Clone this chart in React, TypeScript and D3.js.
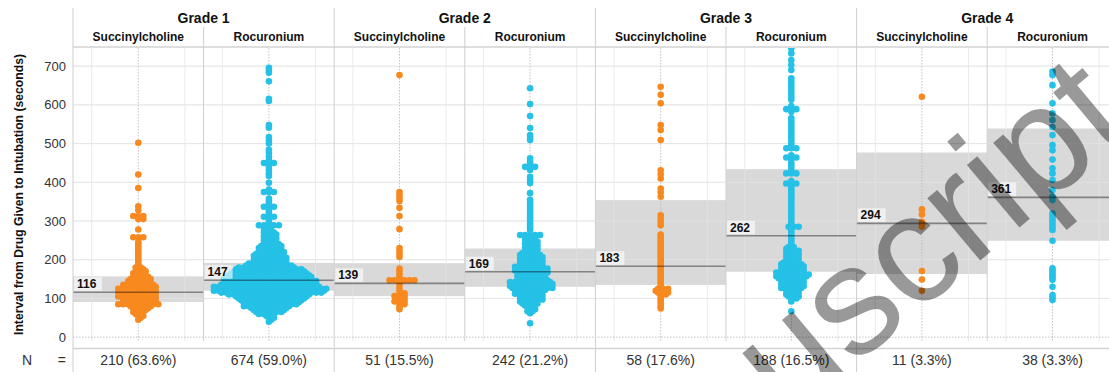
import React, { useMemo } from "react";
import * as d3 from "d3";

const grades = ["Grade 1", "Grade 2", "Grade 3", "Grade 4"];
const drugs = ["Succinylcholine", "Rocuronium"];
const nLabels = ["210 (63.6%)", "674 (59.0%)", "51 (15.5%)", "242 (21.2%)", "58 (17.6%)", "188 (16.5%)", "11 (3.3%)", "38 (3.3%)"];
const medians = [116, 147, 139, 169, 183, 262, 294, 361];
const lowerQ = [91, 120, 106, 130, 135, 169, 163, 249];
const upperQ = [157, 192, 191, 229, 354, 434, 477, 539];
const yTicks = [0, 100, 200, 300, 400, 500, 600, 700];

// [seconds, number of patients]
const g1Succ: [number, number][] = [
  [45, 1], [50, 1], [55, 2], [60, 2], [65, 3], [70, 3], [75, 4], [80, 5], [85, 9], [90, 7], [95, 7],
  [100, 7], [105, 8], [110, 8], [115, 8], [120, 8], [125, 8], [130, 7], [135, 7], [140, 5], [145, 5],
  [150, 5], [155, 4], [160, 3], [165, 3], [170, 3], [175, 2], [180, 2],
  [186, 1], [192, 1], [198, 1], [204, 1], [210, 1], [216, 1], [222, 1], [228, 1], [234, 1], [240, 1], [246, 1],
  [258, 3], [278, 1], [305, 2], [313, 3], [328, 1], [338, 1], [385, 1], [420, 1], [502, 1],
];
const g1Roc: [number, number][] = [
  [40, 1], [45, 1], [50, 2], [55, 2], [60, 4], [65, 6], [70, 7], [75, 8], [80, 10], [85, 11], [90, 12],
  [95, 13], [100, 14], [105, 15], [110, 17], [115, 21], [120, 23], [125, 23], [130, 22], [135, 20],
  [140, 19], [145, 19], [150, 18], [155, 17], [160, 17], [165, 16], [170, 15], [175, 14], [180, 12],
  [185, 10], [190, 8], [195, 7], [200, 7], [205, 7], [210, 7], [215, 6], [220, 6], [225, 5], [230, 5],
  [235, 5], [240, 4], [245, 3], [250, 3], [255, 3], [260, 3], [265, 3], [270, 3], [275, 2], [280, 2],
  [289, 5], [296, 1], [302, 1], [311, 3], [318, 1], [324, 1], [330, 1], [337, 3], [344, 1], [351, 1],
  [358, 1], [375, 3], [381, 1], [399, 1], [416, 1], [423, 1], [431, 1], [440, 1], [450, 3], [456, 1],
  [466, 1], [476, 1], [484, 1], [500, 1], [508, 1], [517, 1], [541, 1], [548, 1], [610, 1], [616, 1],
  [661, 1], [683, 1], [690, 1], [696, 1],
];
const g2Succ: [number, number][] = [
  [72, 1], [78, 1], [85, 2], [92, 3], [100, 2], [106, 3], [113, 2], [122, 1], [130, 1], [139, 1],
  [147, 6], [155, 1], [162, 1], [170, 1], [177, 1], [207, 1], [214, 1], [222, 1], [230, 1], [279, 1],
  [313, 1], [334, 1], [352, 1], [360, 1], [368, 1], [375, 1], [677, 1],
];
const g2Roc: [number, number][] = [
  [36, 1], [62, 1], [67, 2], [72, 2], [77, 2], [82, 3], [87, 4], [92, 4], [97, 5], [102, 5], [107, 5],
  [112, 6], [117, 6], [122, 7], [127, 9], [132, 9], [137, 9], [142, 9], [147, 7], [152, 6], [157, 6],
  [162, 6], [167, 7], [172, 7], [177, 7], [182, 6], [187, 5], [192, 5], [197, 5], [202, 5], [207, 5],
  [212, 5], [217, 4], [222, 3], [227, 3], [232, 3], [237, 3], [242, 3], [247, 3], [252, 2], [258, 2],
  [264, 5], [277, 1], [283, 1], [289, 1], [295, 1], [301, 1], [307, 1], [313, 1], [319, 1], [325, 1],
  [331, 1], [337, 1], [343, 1], [349, 1], [355, 1], [372, 1], [398, 1], [406, 1], [414, 1], [432, 1],
  [440, 3], [447, 1], [453, 1], [462, 1], [509, 1], [516, 1], [522, 1], [540, 1], [571, 1], [602, 1], [643, 1],
];
const g3Succ: [number, number][] = [
  [74, 1], [80, 1], [86, 1], [92, 1], [98, 1], [104, 1], [110, 2], [115, 3], [120, 3], [125, 3],
  [132, 1], [139, 1], [145, 1], [151, 1], [157, 1], [163, 1], [169, 1], [175, 1], [181, 1], [187, 1],
  [193, 1], [199, 1], [205, 1], [211, 1], [217, 1], [223, 1], [229, 1], [235, 1], [241, 1], [247, 1],
  [253, 1], [259, 1], [265, 1], [289, 1], [298, 1], [306, 1], [315, 1], [363, 1], [374, 1], [384, 1],
  [410, 1], [421, 1], [431, 1], [509, 1], [535, 1], [548, 1], [604, 1], [626, 1], [647, 1],
];
const g3Roc: [number, number][] = [
  [67, 1], [92, 1], [100, 2], [105, 3], [110, 3], [115, 3], [120, 3], [127, 5], [132, 5], [137, 5],
  [142, 5], [147, 5], [152, 6], [157, 7], [162, 7], [167, 6], [172, 5], [178, 5], [183, 5], [188, 5],
  [193, 4], [198, 3], [203, 3], [208, 2], [213, 3], [218, 2], [223, 3], [228, 2], [233, 2],
  [238, 1], [244, 1], [250, 1], [256, 1], [262, 1], [268, 1], [274, 1], [280, 1], [285, 3], [290, 1],
  [296, 1], [303, 1], [309, 1], [316, 1], [322, 1], [329, 1], [335, 1], [342, 1], [348, 1], [355, 1],
  [361, 1], [368, 1], [374, 1], [381, 1], [387, 1], [397, 3], [403, 1], [423, 3], [430, 1], [437, 1],
  [444, 1], [450, 1], [458, 1], [464, 3], [470, 1], [488, 3], [496, 1], [503, 1], [510, 1], [517, 1],
  [524, 1], [531, 1], [538, 1], [545, 1], [552, 1], [559, 1], [566, 1], [582, 1], [589, 3], [597, 1],
  [613, 1], [621, 1], [629, 1], [637, 1], [645, 1], [653, 1], [661, 1], [669, 1], [690, 1], [703, 1],
  [716, 1], [733, 1], [746, 1],
];
const g4Succ: [number, number][] = [
  [120, 1], [149, 1], [171, 1], [285, 1], [291, 1], [298, 1], [317, 1], [330, 1], [621, 1],
];
const g4Roc: [number, number][] = [
  [96, 1], [102, 1], [109, 1], [130, 1], [148, 1], [154, 1], [160, 1], [166, 1], [172, 1], [178, 1],
  [249, 1], [277, 1], [284, 1], [291, 1], [298, 1], [305, 1], [312, 1], [320, 1], [354, 1], [363, 1],
  [380, 1], [406, 1], [423, 1], [436, 1], [459, 1], [483, 1], [496, 1], [522, 1], [543, 1], [561, 1],
  [578, 1], [604, 1], [651, 1], [677, 1], [686, 1],
];
const panelDots = [g1Succ, g1Roc, g2Succ, g2Roc, g3Succ, g3Roc, g4Succ, g4Roc];

const W = 1109;
const H = 372;
const LEFT = 73;
const PANEL_W = 130.6;
const TOP = 48;
const BOTTOM = 341;
const ORANGE = "#f7891f";
const CYAN = "#25c1e6";
const FONT = "'Liberation Sans', Arial, Helvetica, sans-serif";

// simple beeswarm: each point goes to the free spot nearest the centre line
function swarm(vals: number[], ys: (v: number) => number) {
  const SX = 5;
  const SY = 2.2;
  const placed: { x: number; y: number }[] = [];
  for (const v of [...vals].sort((a, b) => a - b)) {
    const py = ys(v);
    const near = placed.filter((q) => Math.abs(q.y - py) < SY);
    const cands = [0];
    for (const q of near) {
      const d = SX * Math.sqrt(1 - ((q.y - py) / SY) ** 2);
      cands.push(q.x + d, q.x - d);
    }
    cands.sort((a, b) => Math.abs(a) - Math.abs(b));
    let px = 0;
    for (const c of cands) {
      if (near.every((q) => ((q.x - c) / SX) ** 2 + ((q.y - py) / SY) ** 2 >= 0.999)) {
        px = c;
        break;
      }
    }
    placed.push({ x: px, y: py });
  }
  return placed;
}

export default function App() {
  const x = d3.scaleBand<number>().domain(d3.range(8)).range([LEFT, LEFT + 8 * PANEL_W]);
  const y = d3.scaleLinear().domain([-10, 747]).range([BOTTOM, TOP]);
  const bw = x.bandwidth();

  const swarms = useMemo(
    () => panelDots.map((arr) => swarm(arr.flatMap(([v, c]) => Array(c).fill(v)), y)),
    []
  );

  return (
    <svg width={W} height={H} style={{ position: "fixed", left: 0, top: 0, background: "#fff" }} fontFamily={FONT}>
      <defs>
        <clipPath id="plotClip">
          <rect x={LEFT} y={TOP} width={W - LEFT} height={BOTTOM - TOP} />
        </clipPath>
      </defs>
      <rect width={W} height={H} fill="#fff" />

      {/* grid under everything */}
      {yTicks.slice(1).map((t) => (
        <line key={"hg" + t} x1={LEFT} x2={W} y1={y(t)} y2={y(t)} stroke="#ececec" strokeWidth={1} />
      ))}

      {/* IQR boxes */}
      <g clipPath="url(#plotClip)">
        {medians.map((m, i) => (
          <rect key={"box" + i} x={x(i)} width={bw} y={y(upperQ[i])} height={y(lowerQ[i]) - y(upperQ[i])} fill="#d9d9d9" />
        ))}
      </g>

      {/* grid lines over boxes */}
      {yTicks.slice(1).map((t) => (
        <line key={"hg2" + t} x1={LEFT} x2={W} y1={y(t)} y2={y(t)} stroke="#e4e4e4" strokeOpacity={0.75} strokeWidth={1} />
      ))}
      {d3.range(8).map((i) => {
        const cx = x(i)! + bw / 2;
        return (
          <g key={"vg" + i}>
            <line x1={cx - 46.6} x2={cx - 46.6} y1={TOP} y2={BOTTOM} stroke="#e4e4e4" strokeOpacity={0.75} />
            <line x1={cx + 46.6} x2={cx + 46.6} y1={TOP} y2={BOTTOM} stroke="#e4e4e4" strokeOpacity={0.75} />
            <line x1={cx} x2={cx} y1={TOP} y2={BOTTOM} stroke="#b5b5b5" strokeWidth={0.8} strokeDasharray="1.5,1.5" />
          </g>
        );
      })}
      <line x1={LEFT} x2={W} y1={y(0)} y2={y(0)} stroke="#b5b5b5" strokeWidth={0.8} strokeDasharray="1.5,1.5" />

      {/* dots */}
      <g clipPath="url(#plotClip)">
        {swarms.map((pts, i) => {
          const cx = x(i)! + bw / 2;
          return pts.map((p, j) => (
            <circle key={i + "-" + j} cx={cx + p.x} cy={p.y} r={3.3} fill={i % 2 === 0 ? ORANGE : CYAN} />
          ));
        })}
      </g>

      {/* medians with labels */}
      <g clipPath="url(#plotClip)">
        {medians.map((m, i) => (
          <g key={"med" + i}>
            <line x1={x(i)} x2={x(i)! + bw} y1={y(m)} y2={y(m)} stroke="#000" strokeOpacity={0.4} strokeWidth={1.6} />
            <rect x={x(i)! + 1} y={y(m) - 15} width={28} height={13.5} fill="#fff" fillOpacity={0.6} />
            <text x={x(i)! + 4} y={y(m) - 4.2} fontSize={12} fontWeight="bold" fill="#111">
              {m}
            </text>
          </g>
        ))}
      </g>

      {/* panel frame lines and strips */}
      <line x1={LEFT} x2={W} y1={47} y2={47} stroke="#dedede" strokeWidth={2} />
      {d3.range(4).map((g) => (
        <line key={"gs" + g} x1={x(g * 2)} x2={x(g * 2)} y1={8} y2={H} stroke="#cfcfcf" strokeWidth={1} />
      ))}
      {d3.range(4).map((g) => (
        <line key={"ds" + g} x1={x(g * 2 + 1)} x2={x(g * 2 + 1)} y1={27} y2={BOTTOM} stroke="#cfcfcf" strokeWidth={1} />
      ))}
      {grades.map((g, k) => (
        <text key={g} x={x(k * 2 + 1)} y={23} textAnchor="middle" fontSize={14} fontWeight="bold" fill="#111">
          {g}
        </text>
      ))}
      {d3.range(8).map((i) => (
        <text key={"sub" + i} x={x(i)! + bw / 2} y={40.5} textAnchor="middle" fontSize={12} fontWeight="bold" fill="#111">
          {drugs[i % 2]}
        </text>
      ))}

      {/* y axis */}
      {yTicks.map((t) => (
        <text key={"yt" + t} x={66} y={y(t) + 4.5} textAnchor="end" fontSize={13} fill="#333">
          {t}
        </text>
      ))}
      <text transform={`translate(23,${(TOP + BOTTOM) / 2}) rotate(-90)`} textAnchor="middle" fontSize={12.2} fontWeight="bold" fill="#111">
        Interval from Drug Given to Intubation (seconds)
      </text>

      {/* N row */}
      <line x1={LEFT} x2={W} y1={348.5} y2={348.5} stroke="#d4d4d4" strokeWidth={1.5} />
      <text x={22} y={365} fontSize={14} fill="#333">N</text>
      <text x={66} y={365} textAnchor="end" fontSize={14} fill="#333">=</text>
      {nLabels.map((s, i) => (
        <text key={"n" + i} x={x(i)! + bw / 2} y={365} textAnchor="middle" fontSize={14} fill="#333">
          {s}
        </text>
      ))}

      {/* watermark */}
      <text x={1137} y={129} textAnchor="end" transform="rotate(-40 1137 129)" fontSize={155} fill="#000" fillOpacity={0.4}>
        Author Manuscript
      </text>
    </svg>
  );
}
